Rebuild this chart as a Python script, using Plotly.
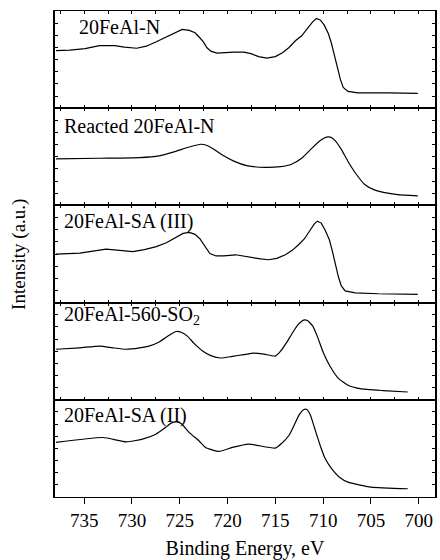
import plotly.graph_objects as go
from plotly.subplots import make_subplots

# Fe 2p spectra: binding energy (eV) and normalised intensity for each sample
be_n = [737.95, 736.5, 734.9, 733.4, 731.8, 730.8, 729.5, 728.5, 727.45, 726.4,
        725.4, 724.75, 724.0, 723.4, 723.0, 722.55, 722.15, 721.75, 721.1, 720.4,
        719.35, 718.3, 717.55, 716.75, 715.9, 715.0, 714.25, 713.6, 712.9, 712.25,
        711.65, 711.1, 710.7, 710.3, 709.9, 709.45, 709.15, 708.85, 708.5, 708.2,
        707.9, 707.4, 706.35, 703.2, 700.1]
int_n = [0.592, 0.597, 0.612, 0.643, 0.643, 0.628, 0.617, 0.638, 0.684, 0.735,
         0.786, 0.811, 0.801, 0.776, 0.735, 0.684, 0.622, 0.587, 0.566, 0.571,
         0.577, 0.577, 0.561, 0.531, 0.515, 0.531, 0.571, 0.622, 0.694, 0.745,
         0.816, 0.888, 0.923, 0.908, 0.857, 0.765, 0.673, 0.541, 0.418, 0.296,
         0.214, 0.173, 0.158, 0.158, 0.153]

be_reacted = [737.95, 733.35, 729.2, 727.15, 725.6, 724.0, 722.8, 722.15, 721.4,
              720.4, 719.35, 718.0, 716.05, 714.45, 713.3, 712.25, 711.25, 710.3,
              709.65, 709.25, 708.75, 708.1, 707.4, 706.55, 705.65, 704.7, 703.55,
              702.2, 700.1]
int_reacted = [0.478, 0.485, 0.492, 0.510, 0.551, 0.601, 0.629, 0.616, 0.576,
               0.510, 0.455, 0.409, 0.391, 0.399, 0.424, 0.485, 0.581, 0.667,
               0.702, 0.702, 0.667, 0.576, 0.452, 0.323, 0.215, 0.162, 0.131,
               0.111, 0.098]

be_sa3 = [737.95, 735.45, 732.7, 731.3, 729.9, 728.7, 727.45, 726.4, 725.4, 724.65,
          724.0, 723.4, 722.9, 722.35, 721.85, 721.2, 720.4, 719.15, 717.8, 716.55,
          715.7, 714.85, 713.95, 713.2, 712.6, 711.95, 711.35, 710.9, 710.6, 710.2,
          709.8, 709.35, 709.05, 708.75, 708.4, 708.1, 707.7, 706.65, 704.25, 700.1]
int_sa3 = [0.498, 0.510, 0.551, 0.535, 0.525, 0.545, 0.576, 0.616, 0.672, 0.712,
           0.722, 0.702, 0.657, 0.576, 0.505, 0.480, 0.480, 0.492, 0.468, 0.449,
           0.441, 0.455, 0.492, 0.540, 0.593, 0.657, 0.747, 0.813, 0.838, 0.818,
           0.747, 0.646, 0.535, 0.394, 0.263, 0.172, 0.121, 0.101, 0.091, 0.084]

be_so2 = [737.95, 735.45, 733.35, 732.0, 730.6, 729.2, 728.15, 727.15, 726.1, 725.4,
          724.85, 724.2, 723.5, 722.65, 721.75, 720.7, 719.5, 718.3, 717.25, 716.2,
          715.0, 714.45, 713.85, 713.2, 712.6, 712.05, 711.65, 711.1, 710.6, 710.0,
          709.25, 708.4, 707.4, 706.15, 703.75, 701.15]
int_so2 = [0.52, 0.535, 0.553, 0.535, 0.52, 0.535, 0.555, 0.595, 0.665, 0.703,
           0.695, 0.655, 0.58, 0.505, 0.455, 0.43, 0.447, 0.465, 0.48, 0.47,
           0.45, 0.50, 0.585, 0.69, 0.775, 0.82, 0.815, 0.76, 0.65, 0.49,
           0.34, 0.22, 0.15, 0.115, 0.095, 0.08]

be_sa2 = [737.95, 733.05, 730.6, 728.9, 727.5, 726.5, 725.9, 725.35, 724.85, 724.0,
          723.0, 722.3, 720.9, 719.5, 717.8, 715.0, 714.35, 713.6, 713.0, 712.5,
          712.05, 711.75, 711.35, 710.85, 710.3, 709.8, 709.1, 708.3, 707.4, 705.0,
          701.15]
int_sa2 = [0.561, 0.612, 0.568, 0.595, 0.646, 0.714, 0.760, 0.772, 0.755, 0.663,
           0.579, 0.510, 0.469, 0.510, 0.544, 0.503, 0.551, 0.630, 0.745, 0.847,
           0.898, 0.903, 0.847, 0.694, 0.528, 0.398, 0.289, 0.204, 0.153, 0.102,
           0.085]

sample_labels = ["20FeAl-N", "Reacted 20FeAl-N", "20FeAl-SA (III)",
                 "20FeAl-560-SO<sub>2</sub>", "20FeAl-SA (II)"]
x_ticks = [735, 730, 725, 720, 715, 710, 705, 700]

series = [
    (be_n, int_n, "linear"),
    (be_reacted, int_reacted, "spline"),
    (be_sa3, int_sa3, "linear"),
    (be_so2, int_so2, "spline"),
    (be_sa2, int_sa2, "spline"),
]

FONT = "Liberation Serif, Times New Roman, serif"

fig = make_subplots(rows=5, cols=1, shared_xaxes=True, vertical_spacing=0)

for i, (xs, ys, shape) in enumerate(series, start=1):
    fig.add_trace(
        go.Scatter(x=xs, y=ys, mode="lines",
                   line=dict(color="black", width=1.2, shape=shape, smoothing=0.5),
                   showlegend=False, hoverinfo="skip"),
        row=i, col=1)

label_pos = [(0.058, 0.84), (0.018, 0.82), (0.018, 0.83), (0.018, 0.87), (0.018, 0.84)]

for i in range(1, 6):
    last = i == 5
    fig.update_xaxes(
        row=i, col=1,
        range=[738.05, 698.3],
        showline=True, linecolor="black", linewidth=1,
        mirror="ticks" if not last else True,
        ticks="outside" if last else "inside",
        tickvals=x_ticks if last else None,
        dtick=None if last else 2.5,
        tick0=700,
        ticklen=6 if last else 3,
        tickcolor="black",
        showticklabels=last,
        showgrid=False, zeroline=False,
        tickfont=dict(family=FONT, size=19, color="black"),
    )
    fig.update_yaxes(
        row=i, col=1,
        range=[0, 1], dtick=0.125, tick0=0,
        showline=True, linecolor="black", linewidth=1.5, mirror="ticks",
        ticks="inside", ticklen=3, tickcolor="black",
        showticklabels=False, showgrid=False, zeroline=False,
    )
    xa = "x" if i == 1 else f"x{i}"
    ya = "y" if i == 1 else f"y{i}"
    lx, ly = label_pos[i - 1]
    fig.add_annotation(
        text=sample_labels[i - 1], xref=f"{xa} domain", yref=f"{ya} domain",
        x=lx, y=ly, xanchor="left", yanchor="middle", showarrow=False,
        font=dict(family=FONT, size=20, color="black"),
    )

fig.update_xaxes(
    row=5, col=1,
    title=dict(text="Binding Energy, eV", standoff=12,
               font=dict(family=FONT, size=20, color="black")),
)

fig.add_annotation(
    text="Intensity (a.u.)", xref="paper", yref="paper",
    x=-0.095, y=0.5, xanchor="center", yanchor="middle", textangle=-90,
    showarrow=False, font=dict(family=FONT, size=19, color="black"),
)

fig.update_layout(
    width=440, height=560,
    margin=dict(l=55, r=3, t=11, b=55),
    paper_bgcolor="white", plot_bgcolor="white",
)

fig.write_html("out.html")
